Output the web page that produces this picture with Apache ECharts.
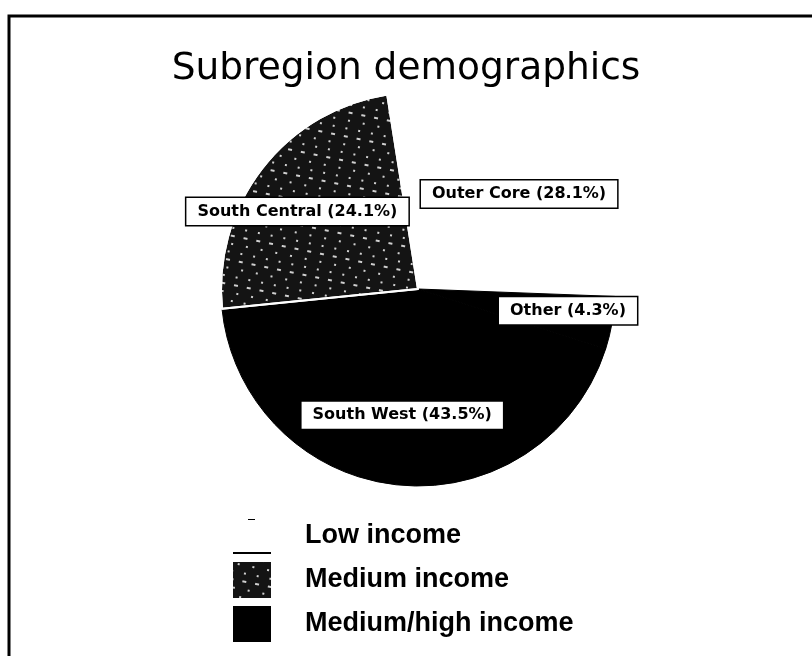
<!DOCTYPE html>
<html>
<head>
<meta charset="utf-8">
<script src="https://cdn.jsdelivr.net/npm/echarts@6/dist/echarts.min.js"></script>
<style>
  html, body { margin: 0; padding: 0; background: #fff; }
  #chart { width: 812px; height: 656px; }
</style>
</head>
<body>
<div id="chart"></div>
<script>
// ---- data ----
const regions = ['Outer Core', 'Other', 'South West', 'South Central'];
const shares = [28.1, 4.3, 43.5, 24.1];
const regionIncome = ['Low income', 'Medium/high income', 'Medium/high income', 'Medium income'];
const incomeLevels = ['Low income', 'Medium income', 'Medium/high income'];
const titleText = 'Subregion demographics';

// ---- styles ----
const CX = 418, CY = 289;
const speckle = {
  color: 'rgba(255,255,255,0.8)',
  symbol: 'rect',
  symbolSize: 1,
  dashArrayX: [[4, 9], [0, 5, 2, 8], [2, 11]],
  dashArrayY: [2, 6],
  rotation: 0.2
};
const incomeStyle = {
  'Low income': { color: '#ffffff', borderWidth: 0 },
  'Medium income': { color: '#141414', decal: speckle, borderColor: '#ffffff', borderWidth: 2 },
  'Medium/high income': { color: '#000000', borderColor: '#000000', borderWidth: 1 }
};

const chart = echarts.init(document.getElementById('chart'), null, { renderer: 'canvas' });

const pieData = regions.map((name, i) => ({
  name: name,
  value: shares[i],
  itemStyle: incomeStyle[regionIncome[i]]
}));

const legendSeriesData = incomeLevels.map(name => ({
  name: name,
  value: 1,
  itemStyle: incomeStyle[name]
}));

const legendData = incomeLevels.map(name => {
  if (name === 'Low income') {
    return {
      name: name,
      icon: 'path://M0,34h38v2h-38z M15,1h7v1h-7z M0,0h1v0.01h-1z',
      itemStyle: { color: '#000000', borderWidth: 0 }
    };
  }
  return { name: name, icon: 'rect', itemStyle: { borderWidth: 0 } };
});

chart.setOption({
  backgroundColor: '#ffffff',
  title: {
    text: titleText,
    left: 'center',
    top: 45,
    textStyle: {
      fontFamily: 'DejaVu Sans',
      fontWeight: 'normal',
      fontSize: 37.5,
      color: '#000'
    }
  },
  legend: {
    orient: 'vertical',
    left: 228,
    top: 513,
    itemWidth: 38,
    itemHeight: 36,
    itemGap: 8,
    data: legendData,
    selectedMode: false,
    textStyle: {
      fontFamily: 'Liberation Sans',
      fontWeight: 'bold',
      fontSize: 27,
      color: '#000',
      padding: [0, 0, 0, 29]
    }
  },
  graphic: [{
    type: 'rect',
    shape: { x: 9, y: 16, width: 1000, height: 1000 },
    style: { fill: 'none', stroke: '#000', lineWidth: 3 },
    silent: true
  }],
  series: [
    {
      type: 'pie',
      name: 'Subregions',
      center: [CX, CY],
      radius: [0, 197],
      startAngle: 99,
      clockwise: true,
      avoidLabelOverlap: false,
      silent: true,
      data: pieData,
      label: {
        show: true,
        position: 'inside',
        formatter: '{b} ({c}%)',
        fontFamily: 'DejaVu Sans',
        fontWeight: 'bold',
        fontSize: 16,
        color: '#000',
        backgroundColor: '#fff',
        borderColor: '#000',
        borderWidth: 1.5,
        padding: [6, 11, 5, 11]
      },
      labelLine: { show: false },
      labelLayout: function (p) {
        const r = p.labelRect;
        const lx = r.x + r.width / 2;
        const ly = r.y + r.height / 2;
        return {
          x: CX + (lx - CX) * 1.5,
          y: CY + (ly - CY) * 1.25,
          align: 'center',
          verticalAlign: 'middle'
        };
      }
    },
    {
      type: 'pie',
      name: 'Income',
      center: [CX, CY],
      radius: [0, 0],
      silent: true,
      label: { show: false },
      labelLine: { show: false },
      data: legendSeriesData,
      z: 0
    }
  ]
});
</script>
</body>
</html>
